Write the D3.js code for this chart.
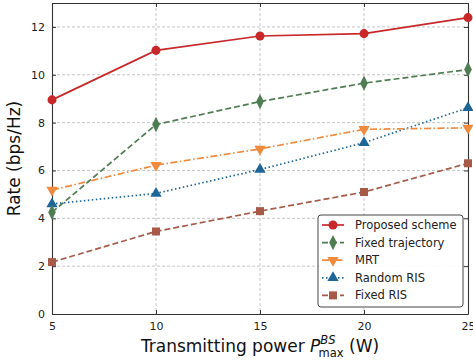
<!DOCTYPE html>
<html>
<head>
<meta charset="utf-8">
<script src="https://cdn.jsdelivr.net/npm/d3@7"></script>
<style>
body { margin: 0; background: #fff; }
text { font-family: "DejaVu Sans", sans-serif; }
</style>
</head>
<body>
<div id="chart"></div>
<script>
// data
var powers = [5, 10, 15, 20, 25];
var proposed = [8.95, 11.02, 11.62, 11.72, 12.39];
var fixedTrajectory = [4.25, 7.92, 8.88, 9.65, 10.22];
var mrt = [5.18, 6.22, 6.9, 7.72, 7.78];
var randomRIS = [4.6, 5.04, 6.04, 7.16, 8.62];
var fixedRIS = [2.17, 3.45, 4.3, 5.1, 6.3];
var yTicks = [0, 2, 4, 6, 8, 10, 12];

var series = [
    {name: "Proposed scheme", values: proposed, color: "#c8282a", marker: "circle", dash: null},
    {name: "Fixed trajectory", values: fixedTrajectory, color: "#4e7d52", marker: "diamond", dash: "6,3"},
    {name: "MRT", values: mrt, color: "#f08a3c", marker: "tri_down", dash: "7,2.5,1.5,2.5"},
    {name: "Random RIS", values: randomRIS, color: "#1d6697", marker: "tri_up", dash: "1.5,2.5"},
    {name: "Fixed RIS", values: fixedRIS, color: "#a65a47", marker: "square", dash: "6,3"}
];

var margin = {top: 3, right: 5, bottom: 48, left: 52};
var W = 473, H = 362;
var width = W - margin.left - margin.right;
var height = H - margin.top - margin.bottom;

var svg = d3.select("#chart").append("svg").attr("width", W).attr("height", H);
var g = svg.append("g").attr("transform", "translate(" + margin.left + "," + margin.top + ")");

var x = d3.scaleLinear().domain([5, 25]).range([0, width]);
var y = d3.scaleLinear().domain([0, 13]).range([height, 0]);

// grid
g.append("g").selectAll("line").data(yTicks.slice(1)).enter().append("line")
    .attr("x1", 0).attr("x2", width).attr("y1", d => y(d)).attr("y2", d => y(d))
    .attr("stroke", "#b8b8b8").attr("stroke-width", 0.8).attr("stroke-dasharray", "3,2");
g.append("g").selectAll("line").data(powers.slice(1, -1)).enter().append("line")
    .attr("y1", 0).attr("y2", height).attr("x1", d => x(d)).attr("x2", d => x(d))
    .attr("stroke", "#b8b8b8").attr("stroke-width", 0.8).attr("stroke-dasharray", "3,2");

// axes, ticks inward on all sides
var axL = g.append("g").call(d3.axisLeft(y).tickValues(yTicks).tickSizeInner(-4).tickSizeOuter(0).tickPadding(7));
var axR = g.append("g").attr("transform", "translate(" + width + ",0)").call(d3.axisRight(y).tickValues(yTicks).tickSizeInner(-4).tickSizeOuter(0).tickFormat(""));
var axB = g.append("g").attr("transform", "translate(0," + height + ")").call(d3.axisBottom(x).tickValues(powers).tickSizeInner(-4).tickSizeOuter(0).tickPadding(8));
var axT = g.append("g").call(d3.axisTop(x).tickValues(powers).tickSizeInner(-4).tickSizeOuter(0).tickFormat(""));
[axL, axR, axB, axT].forEach(function(a) {
    a.select(".domain").attr("stroke", "#333").attr("stroke-width", 1.1);
    a.selectAll(".tick line").attr("stroke", "#333");
    a.selectAll("text").attr("font-size", 11).attr("fill", "#222").attr("font-family", "DejaVu Sans");
});

var line = d3.line().x((d, i) => x(powers[i])).y(d => y(d));

var symbols = {
    circle: d3.symbol().type(d3.symbolCircle).size(64),
    diamond: d3.symbol().type(d3.symbolDiamond).size(56),
    square: d3.symbol().type(d3.symbolSquare).size(64),
    tri_up: d3.symbol().type(d3.symbolTriangle).size(55),
    tri_down: d3.symbol().type(d3.symbolTriangle).size(55)
};
function drawMarker(sel, s, px, py) {
    return sel.append("path").attr("d", symbols[s.marker]()).attr("fill", s.color)
        .attr("transform", "translate(" + px + "," + py + ")" + (s.marker === "tri_down" ? " rotate(180)" : "") + (s.marker === "diamond" ? " scale(0.95,1.1)" : ""));
}

var plot = svg.append("g").attr("transform", "translate(" + margin.left + "," + margin.top + ")");
series.slice().reverse().forEach(function(s) {
    var sg = plot.append("g");
    sg.append("path").datum(s.values).attr("d", line).attr("fill", "none")
        .attr("stroke", s.color).attr("stroke-width", 1.7)
        .attr("stroke-dasharray", s.dash);
    s.values.forEach(function(v, i) { drawMarker(sg, s, x(powers[i]), y(v)); });
});

// legend
var lg = g.append("g").attr("transform", "translate(" + (width - 150) + "," + (height - 99) + ")");
lg.append("rect").attr("x", 0).attr("y", 0).attr("width", 145).attr("height", 92).attr("rx", 3)
    .attr("fill", "#fff").attr("fill-opacity", 0.9).attr("stroke", "#444").attr("stroke-width", 1);
series.forEach(function(s, i) {
    var ry = 10 + i * 17.6;
    lg.append("line").attr("x1", 4).attr("x2", 26).attr("y1", ry).attr("y2", ry)
        .attr("stroke", s.color).attr("stroke-width", 1.7).attr("stroke-dasharray", s.dash);
    drawMarker(lg, s, 15, ry);
    lg.append("text").attr("x", 37).attr("y", ry).attr("dy", "0.35em")
        .attr("font-size", 11.5).attr("fill", "#222").text(s.name);
});

// axis labels
svg.append("text").attr("transform", "translate(20," + (margin.top + height / 2) + ") rotate(-90)")
    .attr("text-anchor", "middle").attr("font-size", 17).attr("fill", "#111").text("Rate (bps/Hz)");

var xl = svg.append("text").attr("x", margin.left + width / 2).attr("y", 352)
    .attr("text-anchor", "middle").attr("font-size", 17).attr("fill", "#111");
xl.append("tspan").text("Transmitting power ");
xl.append("tspan").attr("font-style", "italic").text("P");
xl.append("tspan").attr("font-size", 11.5).attr("font-style", "italic").attr("dy", -8).text("BS");
xl.append("tspan").attr("font-size", 11.5).attr("dx", -17).attr("dy", 13).text("max");
xl.append("tspan").attr("dy", -5).text(" (W)");
</script>
</body>
</html>
